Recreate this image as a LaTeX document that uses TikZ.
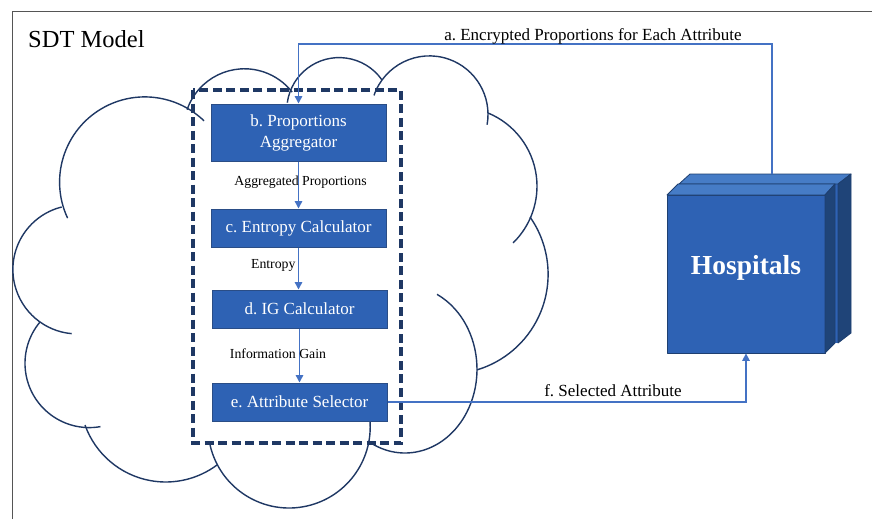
\documentclass[tikz,border=0pt]{standalone}
\usepackage{fontspec}
\setmainfont{Liberation Serif}
\usetikzlibrary{arrows.meta}
\definecolor{boxblue}{HTML}{2E62B4}
\definecolor{boxedge}{HTML}{2A4D86}
\definecolor{navy}{HTML}{1F3864}
\definecolor{conn}{HTML}{4472C4}
\definecolor{cubetop}{HTML}{467CC6}
\definecolor{cubeside}{HTML}{1F4478}
\definecolor{cubeline}{HTML}{1E3F70}
\definecolor{framecol}{HTML}{555555}
\newcommand\cloudlobe[5]{\draw[cloudline] (#1,#2) ++(#3:#5) arc[start angle=#3,end angle=#4,radius=#5];}
\frenchspacing
\begin{document}
\begin{tikzpicture}[x=1pt,y=-1pt,
  cloudline/.style={draw=navy,line width=1.4pt},
  procbox/.style={draw=boxedge,line width=1pt,fill=boxblue,text=white,minimum width=175pt,inner sep=0pt,align=center,font=\fontsize{17}{21}\selectfont},
  flowlabel/.style={font=\fontsize{13.8}{16}\selectfont,inner sep=0pt},
  conntext/.style={font=\fontsize{17}{20}\selectfont,inner sep=0pt,anchor=base},
  connector/.style={draw=conn,line width=1.5pt},
  arrowed/.style={connector,-{Triangle[length=7.5pt,width=7.5pt]}},
  cubeface/.style={draw=cubeline,line width=0.8pt,line join=round}
]
\useasboundingbox (0,0) rectangle (872,519);
\fill[white] (0,0) rectangle (872,519);
\draw[framecol,line width=1pt] (12,519) -- (12,12) -- (872,12);
\node[anchor=base west,inner sep=0pt,font=\fontsize{24.5}{28}\selectfont] (title) at (28,47.3) {SDT Model};

% cloud
\cloudlobe{144.8}{182.1}{155}{314}{85.2}
\cloudlobe{77.3}{269.5}{256}{95}{64.4}
\cloudlobe{89.3}{363.3}{220}{80}{64.3}
\cloudlobe{165.75}{396.3}{160.4}{53.3}{85.7}
\cloudlobe{289.1}{426.9}{167}{-8}{81.1}
\draw[cloudline] (405,369.3) ++(121:72 and 83.7) arc[start angle=121,end angle=-63.6,x radius=72,y radius=83.7];
\cloudlobe{448.3}{274.3}{-35}{73.3}{99.8}
\cloudlobe{457.8}{186.2}{-67.6}{45.8}{79.2}
\cloudlobe{429.4}{114.5}{199}{370}{58.6}
\cloudlobe{339.1}{109.9}{188}{325}{52.3}
\cloudlobe{244.4}{129.4}{199}{322}{60.6}

% dashed module frame
\draw[navy,line width=3.3pt,dash pattern=on 9pt off 4.5pt] (193,90) rectangle (401,443);

% process boxes
\node[procbox,minimum height=57pt] (b) at (298.5,132.5) {b. Proportions\\Aggregator};
\node[procbox,minimum height=38pt] (c) at (298.5,228) {c. Entropy Calculator};
\node[procbox,minimum height=38pt] (d) at (299.5,309) {d. IG Calculator};
\node[procbox,minimum height=38pt] (e) at (299.5,402) {e. Attribute Selector};

% hospitals cube (back)
\fill[boxblue] (679,184) rectangle (838,343);
\filldraw[cubeface,fill=cubetop] (679,184) -- (690,174) -- (851,174) -- (838,184) -- cycle;
\filldraw[cubeface,fill=cubeside] (838,184) -- (851,174) -- (851,333) -- (838,343) -- cycle;
% hospitals cube (front)
\node[cubeface,fill=boxblue,minimum width=158pt,minimum height=158pt,inner sep=0pt] (hosp) at (746,274) {};
\filldraw[cubeface,fill=cubetop] (667,195) -- (678,184) -- (835,184) -- (825,195) -- cycle;
\filldraw[cubeface,fill=cubeside] (825,195) -- (835,184) -- (835,343) -- (825,353) -- cycle;
\node[text=white,inner sep=0pt,font=\bfseries\fontsize{27.5}{30}\selectfont] (hosplabel) at (746,268) {Hospitals};
\coordinate (backtop) at (772,174);

% connectors
\draw[arrowed] (b.south) -- (c.north);
\draw[arrowed] (c.south) -- (c.south |- d.north);
\draw[arrowed] (d.south) -- (d.south |- e.north);
\draw[arrowed] (backtop) -- (backtop |- 0,44) -| (b.north);
\draw[arrowed] (e.east) -| (hosp.south);

% labels
\node[flowlabel] (l1) at (300.5,181.7) {Aggregated Proportions};
\node[flowlabel] (l2) at (273.3,265.7) {Entropy};
\node[flowlabel] (l3) at (278,354) {Information Gain};
\node[conntext] (alabel) at (593,40.3) {a. Encrypted Proportions for Each Attribute};
\node[conntext] (flabel) at (613,396.7) {f. Selected Attribute};
\end{tikzpicture}
\end{document}
